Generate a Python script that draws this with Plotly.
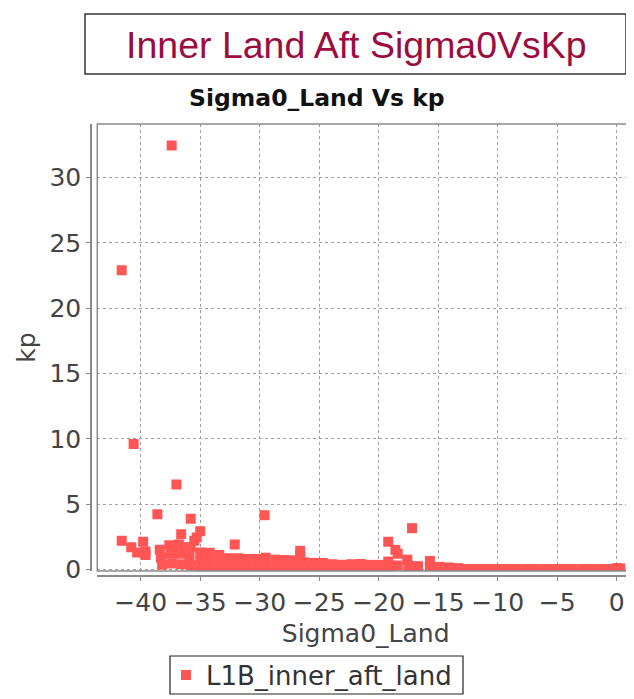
import plotly.graph_objects as go

# ---------------- data ----------------
sigma0 = [
    -37.4, -41.6, -40.6, -37.0, -38.6, -35.8, -29.6, -17.2, -36.6, -35.0,
    -35.3, -41.6, -40.8, -40.3, -39.8, -39.6, -39.6, -19.2, -18.6, -18.4,
    -17.6, -15.7, -32.1, -26.6, -35.5, -35.8,
    -38.4, -38.3, -38.2, -37.6, -37.5, -37.4, -36.8, -36.7, -36.6, -36.0, -35.9, -35.8,
    -35.0, -35.0, -35.0, -34.2, -34.2, -34.2, -33.4, -33.4, -33.4,
    -32.6, -32.6, -31.8, -31.8, -31.0, -31.0, -30.2, -30.2, -29.5, -29.5,
    -28.7, -28.7, -27.9, -27.9, -27.1, -27.1, -26.6, -26.3, -26.3, -25.5, -25.5,
    -24.7, -24.7, -23.9, -23.9, -23.1, -23.1, -22.3, -22.3, -21.5, -21.5,
    -20.7, -20.7, -19.9, -19.9, -19.2, -19.1, -19.1, -18.4, -17.5, -17.5,
    -16.7, -16.7, -15.7, -14.9, -14.9, -14.1, -13.3,
    -12.5, -11.7, -10.9, -10.1, -9.3, -8.5, -7.7, -6.9, -6.1, -5.3,
    -4.5, -3.7, -2.9, -2.1, -1.3, -0.5, 0.0, 0.3,
]
kp = [
    32.45, 22.9, 9.6, 6.5, 4.22, 3.88, 4.15, 3.16, 2.7, 2.92,
    2.45, 2.2, 1.7, 1.3, 2.12, 1.38, 1.1, 2.12, 1.5, 1.2,
    0.75, 0.65, 1.9, 1.42, 2.2, 1.7,
    1.5, 0.9, 0.35, 1.85, 1.2, 0.45, 1.9, 1.2, 0.4, 1.7, 1.0, 0.3,
    1.3, 0.6, 0.08, 1.27, 0.6, 0.08, 1.1, 0.5, 0.08,
    0.85, 0.25, 0.85, 0.25, 0.8, 0.2, 0.8, 0.2, 0.9, 0.25,
    0.75, 0.15, 0.72, 0.15, 0.7, 0.15, 1.05, 0.55, 0.1, 0.5, 0.1,
    0.5, 0.1, 0.4, 0.08, 0.35, 0.08, 0.4, 0.08, 0.42, 0.08,
    0.35, 0.08, 0.35, 0.08, 0.6, 0.3, 0.05, 0.3, 0.3, 0.05,
    0.25, 0.05, 0.2, 0.2, 0.05, 0.15, 0.1,
    0.03, 0.03, 0.03, 0.03, 0.03, 0.03, 0.03, 0.03, 0.03, 0.03,
    0.03, 0.03, 0.03, 0.03, 0.03, 0.03, 0.1, 0.08,
]
series_name = "L1B_inner_aft_land"
x_ticks = [-40, -35, -30, -25, -20, -15, -10, -5, 0]
y_ticks = [0, 5, 10, 15, 20, 25, 30]

# ---------------- layout geometry (page pixels; page body has an 8px margin) ----------------
OFF = 8
W, H = 634 - OFF, 699 - OFF
PL, PR, PT, PB = 91, 634, 124, 576          # paper area in page px (axis lines at PL / PB)
FRAME_L, FRAME_B = 97.3, 571                 # inner plot frame (page px)


def px_x(px):
    return (px - PL) / (PR - PL)


def px_y(py):
    return (PB - py) / (PB - PT)


GRAY = "#8a8a8a"
TXT = "#444444"

fig = go.Figure()
fig.add_trace(go.Scatter(
    x=sigma0, y=kp, mode="markers", name=series_name,
    marker=dict(symbol="square", size=10, color="#ff5555", line=dict(width=0)),
))

fig.update_layout(
    width=W, height=H,
    margin=dict(l=PL - OFF, r=634 - PR, t=PT - OFF, b=699 - PB, pad=0, autoexpand=False),
    paper_bgcolor="white", plot_bgcolor="white",
    showlegend=True,
    legend=dict(
        orientation="h", xref="container", yref="container",
        x=(166 - OFF) / W, xanchor="left", y=1 - (675 - OFF) / H, yanchor="middle",
        borderwidth=0, bgcolor="rgba(0,0,0,0)",
        font=dict(family="DejaVu Sans", size=26, color="#333333"),
    ),
    xaxis=dict(
        domain=[px_x(FRAME_L), 1], anchor="free", position=0, automargin=False,
        range=[-43.65, 1.45], tickvals=x_ticks,
        showline=True, linecolor=GRAY, linewidth=1.5,
        ticks="outside", ticklen=4, tickcolor=GRAY,
        showgrid=True, gridcolor="#a0a0a0", gridwidth=1, griddash="3px,3px",
        zeroline=False,
        tickfont=dict(family="DejaVu Sans", size=25, color=TXT),
        title=dict(text="Sigma0_Land", standoff=8,
                   font=dict(family="DejaVu Sans", size=25, color=TXT)),
    ),
    yaxis=dict(
        domain=[px_y(FRAME_B), 1], anchor="free", position=0, automargin=False,
        range=[-0.12, 34.1], tickvals=y_ticks,
        showline=True, linecolor=GRAY, linewidth=1.5,
        ticks="outside", ticklen=4, tickcolor=GRAY,
        showgrid=True, gridcolor="#a0a0a0", gridwidth=1, griddash="3px,3px",
        zeroline=False,
        tickfont=dict(family="DejaVu Sans", size=25, color=TXT),
        title=dict(text="kp", standoff=6,
                   font=dict(family="DejaVu Sans", size=25, color=TXT)),
    ),
)

# inner plot frame (drawn above data, like the original)
fig.add_shape(type="rect", xref="paper", yref="paper",
              x0=px_x(FRAME_L), x1=1.02, y0=px_y(FRAME_B), y1=px_y(PT),
              line=dict(color=GRAY, width=1.5), layer="above")

# legend frame
fig.add_shape(type="rect", xref="paper", yref="paper",
              x0=px_x(170), x1=px_x(463), y0=px_y(694), y1=px_y(656),
              line=dict(color="#222222", width=1.2))

# boxed header title
fig.add_shape(type="rect", xref="paper", yref="paper",
              x0=px_x(85), x1=px_x(626), y0=px_y(74), y1=px_y(14),
              line=dict(color="#333333", width=1.5), fillcolor="white")
fig.add_annotation(xref="paper", yref="paper", x=px_x(356), y=px_y(45),
                   text="Inner Land Aft Sigma0VsKp", showarrow=False,
                   xanchor="center", yanchor="middle",
                   font=dict(family="Liberation Sans, Arial", size=37.5, color="#9b0d3e"))

# chart subtitle
fig.add_annotation(xref="paper", yref="paper", x=px_x(317), y=px_y(98),
                   text="<b>Sigma0_Land Vs kp</b>", showarrow=False,
                   xanchor="center", yanchor="middle",
                   font=dict(family="DejaVu Sans", size=23.5, color="#111111"))

fig.write_html("out.html")
